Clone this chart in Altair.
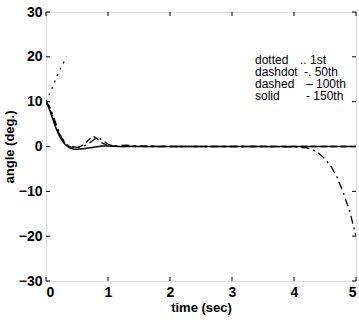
import altair as alt
import pandas as pd

# series values
t_dotted = [0.0, 0.1, 0.2, 0.33]
y_dotted = [10.0, 13.0, 16.5, 20.0]

t_dashdot = [0.0, 0.05, 0.1, 0.15, 0.2, 0.25, 0.3, 0.35, 0.4, 0.5, 0.6, 0.7, 0.8, 0.85, 0.9, 1.0, 1.1, 1.3, 1.6, 2.0, 2.5, 3.0, 3.5, 4.0, 4.2, 4.3, 4.4, 4.5, 4.6, 4.7, 4.8, 4.9, 5.0]
y_dashdot = [10.0, 9.0, 7.5, 5.5, 3.5, 2.0, 1.0, 0.3, 0.0, -0.2, 0.0, 0.8, 1.8, 1.9, 1.5, 0.5, 0.1, 0.3, 0.0, 0.0, 0.0, 0.0, 0.0, -0.1, -0.3, -0.7, -1.5, -2.8, -4.5, -7.0, -10.5, -14.5, -20.0]

t_dashed = [0.0, 0.05, 0.1, 0.15, 0.2, 0.25, 0.3, 0.35, 0.4, 0.5, 0.6, 0.7, 0.75, 0.8, 0.9, 1.0, 1.2, 1.5, 2.0, 3.0, 4.0, 5.0]
y_dashed = [10.0, 8.8, 7.0, 5.0, 3.2, 1.8, 0.8, 0.2, -0.1, -0.3, 0.3, 1.6, 2.3, 2.0, 0.8, 0.2, 0.0, 0.1, 0.0, 0.0, 0.0, 0.0]

t_solid = [0.0, 0.05, 0.1, 0.15, 0.2, 0.25, 0.3, 0.35, 0.4, 0.45, 0.5, 0.6, 0.7, 0.8, 0.9, 1.0, 1.2, 1.5, 2.0, 3.0, 4.0, 5.0]
y_solid = [10.0, 8.5, 6.5, 4.5, 2.8, 1.5, 0.6, 0.0, -0.4, -0.6, -0.6, -0.5, -0.3, -0.1, 0.1, 0.1, 0.0, 0.0, 0.0, 0.0, 0.0, 0.0]

x_ticks = [0, 1, 2, 3, 4, 5]
y_ticks = [-30, -20, -10, 0, 10, 20, 30]

legend_names = ["dotted", "dashdot", "dashed", "solid"]
legend_marks = [".. 1st", "-. 50th", "\u2013 100th", "- 150th"]

def frame(t, y, name):
    return pd.DataFrame({"t": t, "y": y, "s": name})

df = pd.concat([
    frame(t_dotted, y_dotted, "dotted"),
    frame(t_dashdot, y_dashdot, "dashdot"),
    frame(t_dashed, y_dashed, "dashed"),
    frame(t_solid, y_solid, "solid"),
])

font = "Liberation Sans"
xs = alt.Scale(domain=[0, 5], nice=False)
ys = alt.Scale(domain=[-30, 30], nice=False)
common = dict(grid=False, ticks=False, labelPadding=4, labelFontSize=14, titleFontSize=13,
              labelFont=font, titleFont=font, labelColor="black", titleColor="black",
              labelFontWeight="bold", titleFontWeight="bold", domain=False, format="d")
xa = alt.Axis(values=x_ticks, title="time (sec)", titlePadding=2, **common)
ya = alt.Axis(values=y_ticks, title="angle (deg.)", titlePadding=2, **common)

dashes = {"dotted": [2, 5], "dashdot": [8, 4, 2, 4], "dashed": [6, 4], "solid": [1, 0]}
layers = []
for name, d in dashes.items():
    layers.append(
        alt.Chart(df[df.s == name]).mark_line(color="black", strokeWidth=1.5 if name == "solid" else 1.3,
                                              strokeDash=d, clip=True)
        .encode(x=alt.X("t:Q", scale=xs, axis=xa), y=alt.Y("y:Q", scale=ys, axis=ya), order="t:Q")
    )

xt = pd.DataFrame({"t": x_ticks})
yt = pd.DataFrame({"y": y_ticks})
xticks_b = alt.Chart(xt).mark_rule(color="black", strokeWidth=1).encode(
    x=alt.X("t:Q", scale=xs, axis=xa), y=alt.value(269), y2=alt.value(265))
xticks_t = alt.Chart(xt).mark_rule(color="black", strokeWidth=1).encode(
    x=alt.X("t:Q", scale=xs, axis=xa), y=alt.value(0), y2=alt.value(4))
yticks_l = alt.Chart(yt).mark_rule(color="black", strokeWidth=1).encode(
    y=alt.Y("y:Q", scale=ys, axis=ya), x=alt.value(0), x2=alt.value(4))
yticks_r = alt.Chart(yt).mark_rule(color="black", strokeWidth=1).encode(
    y=alt.Y("y:Q", scale=ys, axis=ya), x=alt.value(306), x2=alt.value(310))

mark_x = [254, 258, 260, 260]
legend_layers = []
for i, (nm, mk) in enumerate(zip(legend_names, legend_marks)):
    style = dict(align="left", baseline="alphabetic", font=font, fontSize=12,
                 fontWeight="normal", color="black")
    legend_layers.append(
        alt.Chart(pd.DataFrame({"txt": [nm]})).mark_text(**style).encode(
            x=alt.value(209), y=alt.value(52 + 12 * i), text="txt:N"))
    legend_layers.append(
        alt.Chart(pd.DataFrame({"txt": [mk]})).mark_text(**style).encode(
            x=alt.value(mark_x[i]), y=alt.value(52 + 12 * i), text="txt:N"))

chart = alt.layer(*layers, xticks_b, xticks_t, yticks_l, yticks_r, *legend_layers).properties(
    width=310, height=269,
    autosize=alt.AutoSizeParams(type="none"),
    padding={"left": 46, "top": 12, "right": 3, "bottom": 41},
).configure_view(stroke="black", strokeWidth=1.5).configure(background="white")

chart.save("out.html", embed_options={"renderer": "svg", "actions": False})
